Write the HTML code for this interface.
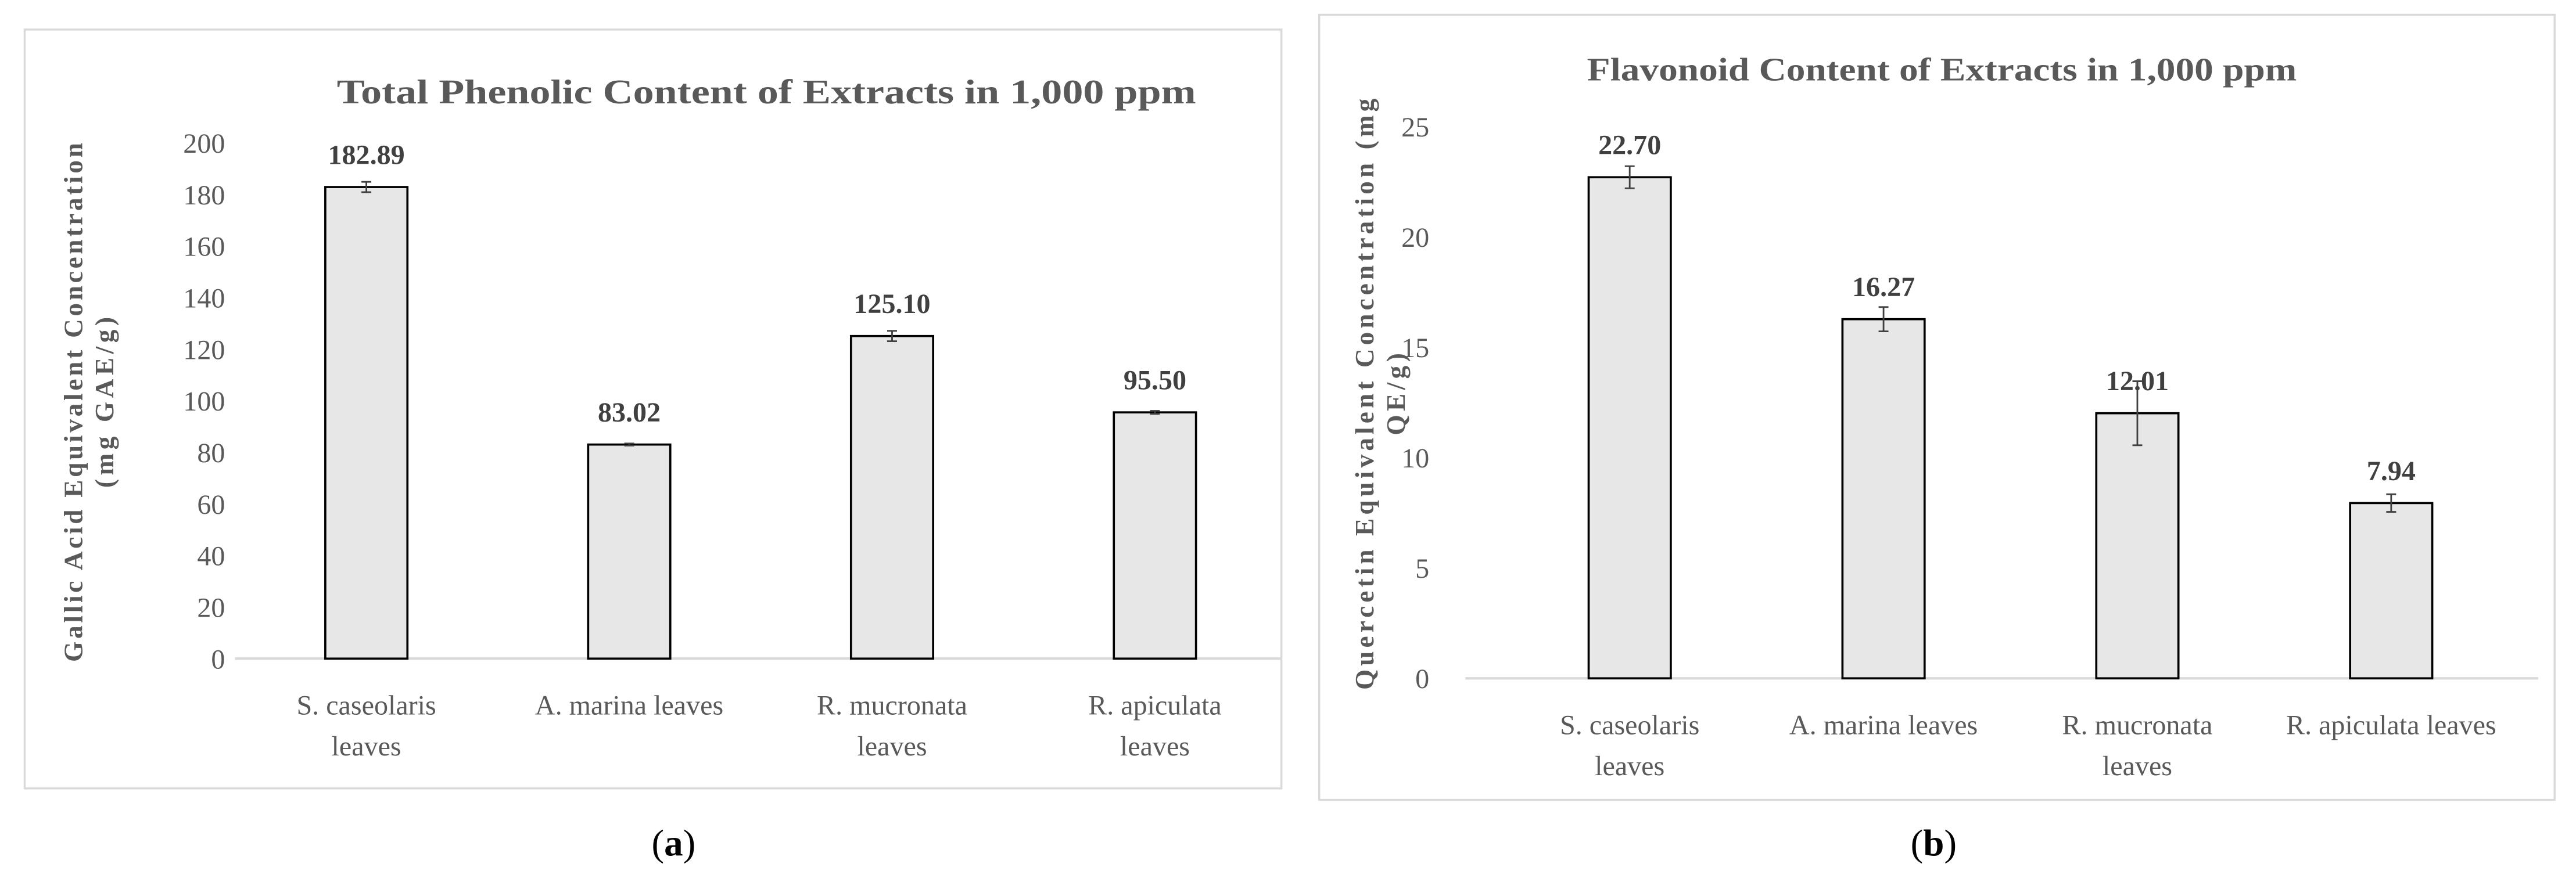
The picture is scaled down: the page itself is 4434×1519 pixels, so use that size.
<!DOCTYPE html>
<html><head><meta charset="utf-8"><style>
html,body{margin:0;padding:0;background:#fff;}
svg{display:block;font-family:"Liberation Serif",serif;}
</style></head><body>
<svg id="root" width="4434" height="1519" viewBox="0 0 1568 537" preserveAspectRatio="none" xmlns="http://www.w3.org/2000/svg">
<rect x="15" y="18" width="765" height="462" fill="#fff" stroke="#d9d9d9" stroke-width="1.2"/>
<rect x="803" y="9" width="752" height="478" fill="#fff" stroke="#d9d9d9" stroke-width="1.2"/>
<text x="205" y="63" textLength="523" lengthAdjust="spacingAndGlyphs" font-size="21" font-weight="bold" fill="#595959">Total Phenolic Content of Extracts in 1,000 ppm</text>
<text x="966" y="49" textLength="432" lengthAdjust="spacingAndGlyphs" font-size="20" font-weight="bold" fill="#595959">Flavonoid Content of Extracts in 1,000 ppm</text>
<text transform="translate(56,245) rotate(-90)" font-size="16" font-weight="bold" fill="#595959"><tspan x="-158" dy="-6" textLength="316" lengthAdjust="spacing">Gallic Acid Equivalent Concentration</tspan><tspan x="-52" dy="19" textLength="104" lengthAdjust="spacing">(mg GAE/g)</tspan></text>
<text transform="translate(842,240) rotate(-90)" font-size="16" font-weight="bold" fill="#595959"><tspan x="-180" dy="-6" textLength="360" lengthAdjust="spacing">Quercetin Equivalent Concentration (mg</tspan><tspan x="-25" dy="19" textLength="50" lengthAdjust="spacing">QE/g)</tspan></text>
<text x="410" y="521" text-anchor="middle" font-size="23">(<tspan font-weight="bold">a</tspan>)</text>
<text x="1177" y="521" text-anchor="middle" font-size="23">(<tspan font-weight="bold">b</tspan>)</text>
<g id="ga"></g><g id="gb"></g>
</svg>
<script>
const catsA = [["S. caseolaris","leaves"],["A. marina leaves"],["R. mucronata","leaves"],["R. apiculata","leaves"]];
const valsA = [182.89, 83.02, 125.10, 95.50];
const errA = [2, 0.4, 2, 0.6];
const labelsA = ["182.89","83.02","125.10","95.50"];
const ticksA = [0,20,40,60,80,100,120,140,160,180,200];
const catsB = [["S. caseolaris","leaves"],["A. marina leaves"],["R. mucronata","leaves"],["R. apiculata leaves"]];
const valsB = [22.70, 16.27, 12.01, 7.94];
const errB = [0.5, 0.55, 1.45, 0.4];
const labelsB = ["22.70","16.27","12.01","7.94"];
const ticksB = [0,5,10,15,20,25];

const NS="http://www.w3.org/2000/svg";
function mk(g,tag,attrs){const e=document.createElementNS(NS,tag);for(const k in attrs)e.setAttribute(k,attrs[k]);g.appendChild(e);return e;}

function draw(gid,cfg,cats,vals,errs,labels,ticks){
  const g=document.getElementById(gid);
  const ymax=ticks[ticks.length-1];
  const y=v=>cfg.y0-(v/ymax)*(cfg.y0-cfg.yTop);
  const x=i=>cfg.x0+cfg.step*i;
  ticks.forEach(t=>{
    const e=mk(g,'text',{x:cfg.tickX,y:y(t)+6,'text-anchor':'end','font-size':17,fill:'#595959'});
    e.textContent=t;
    
    
  });
  const ax=mk(g,'line',{x1:cfg.axL,x2:cfg.axR,y1:cfg.y0,y2:cfg.y0,stroke:'#d9d9d9','stroke-width':1.5});
  
  
  vals.forEach((v,i)=>{
    const cx=x(i),w=cfg.bw;
    const b=mk(g,'rect',{x:cx-w/2,y:y(v),width:w,height:cfg.y0-y(v),fill:'#e7e7e7',stroke:'#000','stroke-width':1.3});
    
    
    const e=errs[i],yt=y(v+e),yb=y(v-e);
    const eb=mk(g,'path',{d:`M${cx},${yt}V${yb}M${cx-3},${yt}H${cx+3}M${cx-3},${yb}H${cx+3}`,stroke:'#404040','stroke-width':1,fill:'none'});
    
    
    const lt=mk(g,'text',{x:cx,y:y(v)-cfg.lblOff,'text-anchor':'middle','font-size':17,'font-weight':'bold',fill:'#404040'});
    lt.textContent=labels[i];
    
    
    const ct=mk(g,'text',{x:cx,y:cfg.catY,'text-anchor':'middle','font-size':17,fill:'#595959'});
    
    
    cats[i].forEach((s,j)=>{const ts=mk(ct,'tspan',{x:cx,dy:j?25:0});ts.textContent=s;});
  });
}
draw('ga',{y0:401,yTop:87,x0:223,step:160,bw:50,tickX:137,axL:143,axR:780,catY:435,lblOff:14},catsA,valsA,errA,labelsA,ticksA);
draw('gb',{y0:413,yTop:77,x0:992,step:154.5,bw:50,tickX:870,axL:892,axR:1545,catY:447,lblOff:14},catsB,valsB,errB,labelsB,ticksB);
</script>
</body></html>
